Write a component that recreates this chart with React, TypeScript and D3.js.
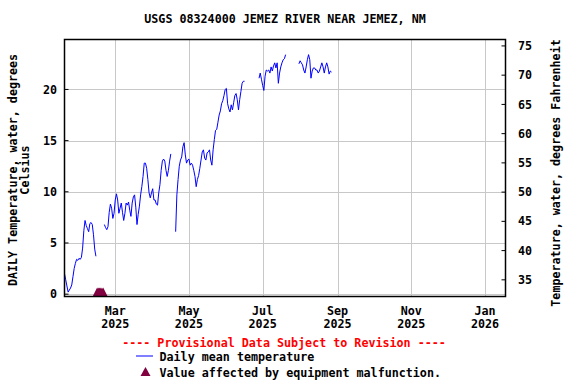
import { useRef, useEffect } from "react";
import * as d3 from "d3";

// Daily mean water temperature (deg C), one value per day starting at startDate, null = no data
const startDate = "2025-01-18";
const endDate = "2026-01-18";
const dailyTemps: (number | null)[] = [
  2.0, 1.4, 0.8, 0.2, 0.4, 0.6, 0.9, 1.7, 2.5, 3.0,
  3.4, 3.3, 3.5, 3.4, 3.6, 4.5, 6.2, 7.2, 6.7, 6.4,
  6.1, 6.9, 7.0, 6.8, 5.8, 4.4, 3.7, null, null, null,
  null, null, null, 6.8, 6.5, 6.3, 6.6, 8.0, 8.8, 8.4,
  7.4, 7.9, 9.2, 9.8, 9.2, 7.9, 8.4, 8.9, 8.0, 7.2,
  7.9, 8.9, 8.7, 9.0, 8.2, 7.6, 8.9, 9.5, 9.7, 8.5,
  6.8, 7.8, 8.6, 9.7, 10.5, 11.5, 12.8, 12.8, 12.3, 11.2,
  9.9, 9.4, 9.9, 10.3, 9.2, 9.2, 8.8, 8.7, 9.9, 10.7,
  12.1, 13.0, 13.2, 13.0, 12.1, 11.5, 12.1, 13.0, 13.7, null,
  null, null, 6.1, 9.7, 11.2, 12.5, 13.1, 13.4, 14.4, 14.8,
  13.6, 12.8, 13.1, 13.2, 12.6, 12.8, 12.6, 12.1, 11.5, 10.5,
  11.2, 11.6, 12.3, 13.1, 13.9, 14.1, 13.3, 13.1, 13.8, 13.9,
  14.1, 13.1, 12.6, 14.1, 15.1, 16.0, 16.1, 16.8, 17.5, 17.9,
  18.6, 18.9, 19.4, 20.0, 20.1, 18.6, 18.1, 17.8, 18.5, 18.0,
  18.7, 19.4, 19.6, 19.0, 18.0, 19.0, 19.8, 20.6, 20.8, 20.8,
  null, null, null, null, null, null, null, null, null, null,
  null, 21.1, 21.6, 21.0, 20.4, 19.9, 21.3, 21.9, 21.8, 21.9,
  21.6, 22.2, 21.8, 22.3, 22.6, 22.1, 22.6, 20.6, 21.6, 22.2,
  22.6, 22.9, 23.0, 23.4, null, null, null, null, null, null,
  null, null, null, null, 22.5, 22.8, 22.6, 22.4, 21.9, 21.6,
  22.2, 22.9, 23.4, 22.9, 21.1, 21.8, 22.1, 22.1, 21.9, 21.9,
  21.6, 21.8, 22.2, 22.6, 22.2, 21.6, 22.2, 22.6, 22.2, 21.5,
  21.8, 21.7,
];

// days flagged "equipment malfunction"
const malfunctionDates = ["2025-02-14", "2025-02-15", "2025-02-16", "2025-02-17", "2025-02-18", "2025-02-19"];

const celsiusTicks = [0, 5, 10, 15, 20];
const fahrenheitTicks = [35, 40, 45, 50, 55, 60, 65, 70, 75];
const monthTicks = ["2025-03-01", "2025-05-01", "2025-07-01", "2025-09-01", "2025-11-01", "2026-01-01"];

const title = "USGS 08324000 JEMEZ RIVER NEAR JEMEZ, NM";
const leftLabel = ["DAILY Temperature, water, degrees", "Celsius"];
const rightLabel = "Temperature, water, degrees Fahrenheit";
const provisional = "---- Provisional Data Subject to Revision ----";
const legendLine = "Daily mean temperature";
const legendMarker = "Value affected by equipment malfunction.";

const FONT = "'DejaVu Sans Mono', monospace";
const W = 576;
const H = 384;
const plot = { left: 64.5, right: 505.5, top: 39.5, bottom: 296.5 };

export default function App() {
  const svgRef = useRef<SVGSVGElement>(null);

  useEffect(() => {
    const svg = d3.select(svgRef.current);
    svg.selectAll("*").remove();

    const parse = d3.utcParse("%Y-%m-%d");
    const start = parse(startDate)!;

    const x = d3.scaleUtc().domain([start, parse(endDate)!]).range([plot.left, plot.right]);
    const yC = d3.scaleLinear().domain([-0.23, 24.88]).range([plot.bottom, plot.top]);
    const yF = d3.scaleLinear().domain([32.15, 76.1]).range([plot.bottom, plot.top]);

    const data = dailyTemps.map((v, i) => ({ date: d3.utcDay.offset(start, i), value: v }));

    const txt = (g: any) => g.attr("font-family", FONT).attr("font-weight", "bold").attr("font-size", 11.7).attr("fill", "#000");

    // grid
    svg.append("g")
      .selectAll("line.h")
      .data(celsiusTicks)
      .join("line")
      .attr("x1", plot.left).attr("x2", plot.right)
      .attr("y1", (d) => Math.round(yC(d)) + 0.5).attr("y2", (d) => Math.round(yC(d)) + 0.5)
      .attr("stroke", "#c8c8c8");
    svg.append("g")
      .selectAll("line")
      .data(monthTicks)
      .join("line")
      .attr("x1", (d) => Math.round(x(parse(d)!)) + 0.5).attr("x2", (d) => Math.round(x(parse(d)!)) + 0.5)
      .attr("y1", plot.top).attr("y2", plot.bottom)
      .attr("stroke", "#c8c8c8");

    // malfunction markers
    svg.append("g")
      .selectAll("path")
      .data(malfunctionDates)
      .join("path")
      .attr("d", (d) => {
        const cx = x(parse(d)!);
        return `M${cx - 4.5},${plot.bottom}L${cx},${plot.bottom - 9}L${cx + 4.5},${plot.bottom}Z`;
      })
      .attr("fill", "#800040");

    // line
    const myLine = d3.line<{ date: Date; value: number | null }>()
      .defined((d) => d.value !== null)
      .x((d) => x(d.date))
      .y((d) => yC(d.value as number));
    svg.append("path")
      .datum(data)
      .attr("d", myLine)
      .attr("fill", "none")
      .attr("stroke", "#0000ff")
      .attr("stroke-width", 1);

    // frame
    svg.append("rect")
      .attr("x", plot.left).attr("y", plot.top)
      .attr("width", plot.right - plot.left).attr("height", plot.bottom - plot.top)
      .attr("fill", "none").attr("stroke", "#000").attr("stroke-width", 1.5);

    // left ticks + labels
    const lt = svg.append("g");
    lt.selectAll("line").data(celsiusTicks).join("line")
      .attr("x1", plot.left).attr("x2", plot.left + 4)
      .attr("y1", (d) => yC(d)).attr("y2", (d) => yC(d))
      .attr("stroke", "#000");
    lt.selectAll("text").data(celsiusTicks).join("text")
      .call(txt)
      .attr("x", 57).attr("y", (d) => yC(d)).attr("dy", "0.35em")
      .attr("text-anchor", "end")
      .text((d) => d);

    // right ticks + labels
    const rt = svg.append("g");
    rt.selectAll("line").data(fahrenheitTicks).join("line")
      .attr("x1", plot.right - 4).attr("x2", plot.right)
      .attr("y1", (d) => yF(d)).attr("y2", (d) => yF(d))
      .attr("stroke", "#000");
    rt.selectAll("text").data(fahrenheitTicks).join("text")
      .call(txt)
      .attr("x", 518).attr("y", (d) => yF(d)).attr("dy", "0.35em")
      .text((d) => d);

    // x labels
    const xt = svg.append("g");
    const fmtM = d3.utcFormat("%b");
    const fmtY = d3.utcFormat("%Y");
    xt.selectAll("text.m").data(monthTicks).join("text")
      .call(txt)
      .attr("x", (d) => x(parse(d)!)).attr("y", 311).attr("dy", "0.35em")
      .attr("text-anchor", "middle")
      .text((d) => fmtM(parse(d)!));
    xt.selectAll("text.yr").data(monthTicks).join("text")
      .call(txt)
      .attr("x", (d) => x(parse(d)!)).attr("y", 323.5).attr("dy", "0.35em")
      .attr("text-anchor", "middle")
      .text((d) => fmtY(parse(d)!));

    // title
    svg.append("text").call(txt)
      .attr("x", 285).attr("y", 19).attr("dy", "0.35em")
      .attr("text-anchor", "middle").text(title);

    // axis titles
    const midY = (plot.top + plot.bottom) / 2;
    leftLabel.forEach((s, i) => {
      svg.append("text").call(txt)
        .attr("transform", `translate(${13 + i * 11.5},${midY + 2}) rotate(-90)`)
        .attr("dy", "0.35em").attr("text-anchor", "middle").text(s);
    });
    svg.append("text").call(txt)
      .attr("transform", `translate(556,${midY + 5}) rotate(-90)`)
      .attr("dy", "0.35em").attr("text-anchor", "middle").text(rightLabel);

    // legend
    svg.append("text").call(txt)
      .attr("x", 284).attr("y", 343.3).attr("dy", "0.35em")
      .attr("text-anchor", "middle").attr("fill", "#ff0000").text(provisional);
    svg.append("line")
      .attr("x1", 136).attr("x2", 153).attr("y1", 356).attr("y2", 356)
      .attr("stroke", "#0000ff");
    svg.append("text").call(txt)
      .attr("x", 159.5).attr("y", 357).attr("dy", "0.35em").text(legendLine);
    svg.append("path")
      .attr("d", "M140.5,376L145.5,367L150.5,376Z")
      .attr("fill", "#800040");
    svg.append("text").call(txt)
      .attr("x", 159.5).attr("y", 373).attr("dy", "0.35em").text(legendMarker);
  }, []);

  return (
    <svg
      ref={svgRef}
      width={W}
      height={H}
      style={{ position: "absolute", left: 0, top: 0, background: "#fff", display: "block" }}
    />
  );
}
